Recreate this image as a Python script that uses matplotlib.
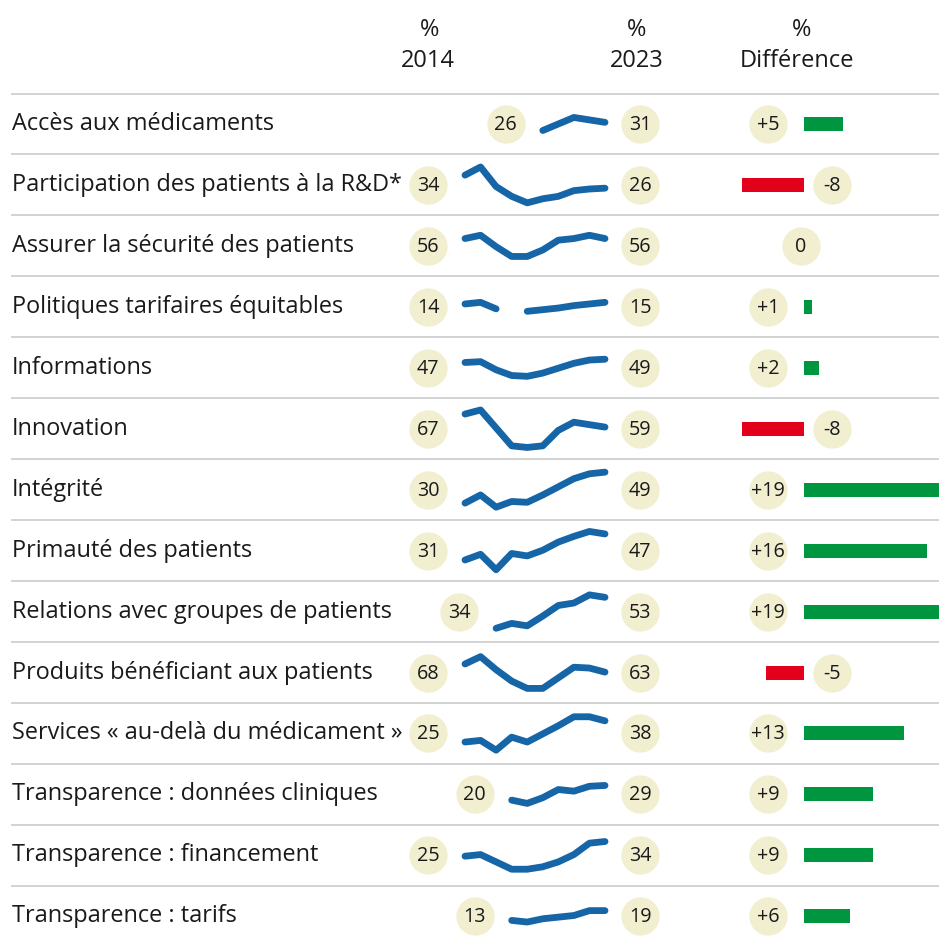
import numpy as np
import matplotlib
matplotlib.use("Agg")
import matplotlib.pyplot as plt

plt.rcParams['font.family'] = ['Open Sans', 'DejaVu Sans']

nan = np.nan

# data
years = np.arange(2014, 2024)

labels = [
    "Accès aux médicaments",
    "Participation des patients à la R&D*",
    "Assurer la sécurité des patients",
    "Politiques tarifaires équitables",
    "Informations",
    "Innovation",
    "Intégrité",
    "Primauté des patients",
    "Relations avec groupes de patients",
    "Produits bénéficiant aux patients",
    "Services « au-delà du médicament »",
    "Transparence : données cliniques",
    "Transparence : financement",
    "Transparence : tarifs",
]

first_values = [26, 34, 56, 14, 47, 67, 30, 31, 34, 68, 25, 20, 25, 13]
last_values = [31, 26, 56, 15, 49, 59, 49, 47, 53, 63, 38, 29, 34, 19]
differences = [5, -8, 0, 1, 2, -8, 19, 16, 19, -5, 13, 9, 9, 6]

acces = [nan, nan, nan, nan, nan, 26, 30, 34, 32.5, 31]
participation = [34, 39, 27, 21, 17, 19.5, 21, 24.5, 25.5, 26]
securite = [56, 58, 51, 45, 45, 49, 55, 56, 58, 56]
tarifaires = [14, 15, 11, nan, 9.5, 10.5, 11.5, 13, 14, 15]
informations = [47, 47.5, 42.5, 39, 38.5, 40.5, 43.5, 46.5, 48.5, 49]
innovation = [67, 69.5, 58.5, 47.5, 46.5, 47.5, 57, 62, 60.5, 59]
integrite = [30, 35, 27.5, 31, 30.5, 35, 40, 45, 48, 49]
primaute = [31, 34.5, 25, 35, 33.5, 37, 42, 45.5, 48.5, 47]
relations = [nan, nan, 34, 37, 35.5, 41.5, 48, 49.5, 54.5, 53]
produits = [68, 72.5, 64.5, 57.5, 53, 53, 59.5, 66, 65.5, 63]
services = [25, 26, 20, 28, 25, 30, 35, 40.5, 40.5, 38]
donnees = [nan, nan, nan, 20, 18, 21.5, 26.5, 25.5, 28.5, 29]
financement = [25, 26, 21.5, 17, 17, 18.5, 21.5, 26, 33, 34]
tarifs = [nan, nan, nan, 13, 12, 14, 15, 16, 19, 19]

series = [acces, participation, securite, tarifaires, informations, innovation,
          integrite, primaute, relations, produits, services, donnees,
          financement, tarifs]

# colours / layout (pixels)
W, H = 939, 940
circle_col = '#F1EFD0'
line_col = '#1565A7'
green = '#00953F'
red = '#E2001A'
grid_col = '#CFCFCF'
txt_col = '#1A1A1A'

top_line = 93.5
pitch = 60.95
row_y = [top_line + pitch * (i + 0.5) for i in range(len(labels))]
spark_x0, spark_x1 = 465, 605
px_per_unit = 1.63      # sparkline vertical scale
bar_zero = 804
bar_px_per_unit = 7.7
circ_s = 760

fig = plt.figure(figsize=(W / 100, H / 100), dpi=100)
ax = fig.add_axes([0, 0, 1, 1])
ax.set_xlim(0, W)
ax.set_ylim(H, 0)
ax.axis('off')

# header
for x_pct, x_lab, lab in [(430, 428, '2014'), (637, 637, '2023'), (802, 797, 'Différence')]:
    ax.text(x_pct, 30, '%', ha='center', va='center', fontsize=17, color=txt_col)
    ax.text(x_lab, 61, lab, ha='center', va='center', fontsize=17, color=txt_col)

# separators
for i in range(len(labels)):
    ax.plot([12, W], [top_line + pitch * i] * 2, color=grid_col, lw=1.3, zorder=1)

# difference bars
bax = fig.add_axes([730 / W, 0, (W - 730) / W, 1])
bax.set_xlim((730 - bar_zero) / bar_px_per_unit, (W - bar_zero) / bar_px_per_unit)
bax.set_ylim(H, 0)
bax.axis('off')
bax.barh(row_y, differences, height=14,
         color=[green if d > 0 else red for d in differences])

for i, (lab, vals) in enumerate(zip(labels, series)):
    y = row_y[i]
    ax.text(12, y, lab, ha='left', va='center', fontsize=16.9, color=txt_col)

    # sparkline in its own axes, same vertical scale for every row
    vals = np.array(vals, dtype=float)
    mid = (np.nanmin(vals) + np.nanmax(vals)) / 2
    half = pitch / 2 / px_per_unit
    sax = fig.add_axes([spark_x0 / W, (H - y - pitch / 2) / H,
                        (spark_x1 - spark_x0) / W, pitch / H])
    sax.set_xlim(2014, 2023)
    sax.set_ylim(mid - half, mid + half)
    sax.axis('off')
    sax.plot(years, vals, color=line_col, lw=4.9, solid_capstyle='round',
             solid_joinstyle='round', clip_on=False)

    # start / end circles
    first_year = years[~np.isnan(vals)][0]
    x_start = spark_x0 + (first_year - 2014) / 9 * (spark_x1 - spark_x0) - 37
    ax.scatter([x_start, 640], [y, y], s=circ_s, color=circle_col, zorder=3, lw=0)
    ax.text(x_start, y + 1, str(first_values[i]), ha='center', va='center',
            fontsize=14.2, color=txt_col, zorder=4)
    ax.text(640, y + 1, str(last_values[i]), ha='center', va='center',
            fontsize=14.2, color=txt_col, zorder=4)

    # difference circle
    d = differences[i]
    if d > 0:
        xd, s = 768, '+%d' % d
    elif d < 0:
        xd, s = 832, '%d' % d
    else:
        xd, s = 801, '0'
    ax.scatter([xd], [y], s=circ_s, color=circle_col, zorder=3, lw=0)
    ax.text(xd, y + 1, s, ha='center', va='center', fontsize=14.2,
            color=txt_col, zorder=4)

fig.savefig('out.png', dpi=100)
